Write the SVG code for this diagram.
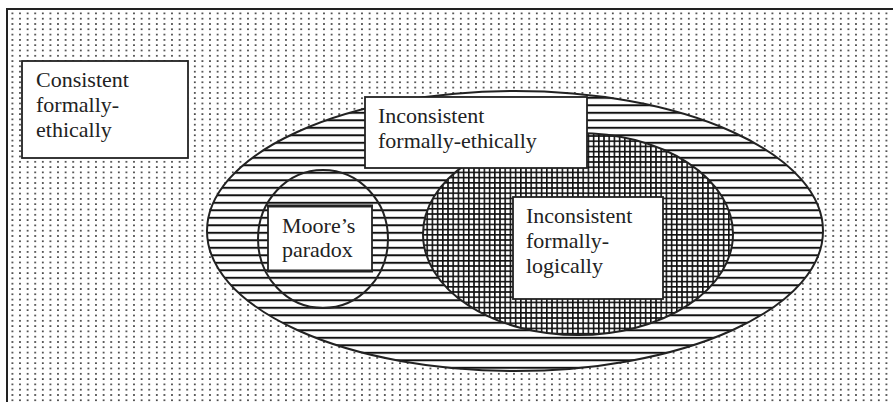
<svg xmlns="http://www.w3.org/2000/svg" width="893" height="402" viewBox="0 0 893 402">
  <defs>
    <pattern id="dots" patternUnits="userSpaceOnUse" x="2" y="1" width="7.6" height="5.3">
      <rect x="2" y="1" width="1.6" height="1.6" fill="#222"/>
    </pattern>
    <pattern id="hlines" patternUnits="userSpaceOnUse" x="0" y="6.8" width="20" height="7.5">
      <rect x="0" y="0" width="20" height="2" fill="#111"/>
    </pattern>
    <pattern id="grid" patternUnits="userSpaceOnUse" x="0" y="0" width="5.2" height="5.2">
      <rect x="0" y="0" width="5.2" height="1.6" fill="#111"/>
      <rect x="0" y="0" width="1.6" height="5.2" fill="#111"/>
    </pattern>
  </defs>
  <style>
    .lbl { font-family: "Liberation Serif", "Times New Roman", "DejaVu Serif", serif; font-size: 22px; fill: #222; }
    .box { fill: #fff; stroke: #222; stroke-width: 1.8; }
    .outline { fill: none; stroke: #222; stroke-width: 2; }
  </style>
  <rect x="0" y="0" width="893" height="402" fill="#fff"/>
  <g id="universe">
    <rect x="7" y="9" width="900" height="400" fill="url(#dots)" stroke="#222" stroke-width="2"/>
  </g>
  <g id="inconsistent-ethical">
    <ellipse cx="515" cy="231" rx="308" ry="140" fill="#fff"/>
    <ellipse cx="515" cy="231" rx="308" ry="140" fill="url(#hlines)" stroke="#222" stroke-width="2"/>
  </g>
  <g id="inconsistent-logical">
    <ellipse cx="578" cy="234" rx="155" ry="101" fill="#fff"/>
    <ellipse cx="578" cy="234" rx="155" ry="101" fill="url(#grid)" stroke="#222" stroke-width="2"/>
  </g>
  <g id="moore-circle">
    <ellipse cx="323" cy="239" rx="65" ry="69" class="outline" stroke-width="4"/>
  </g>
  <g id="consistent-label">
    <rect x="22" y="61" width="166" height="97" class="box"/>
    <text class="lbl" font-family="Liberation Serif, serif"><tspan x="36" y="87">Consistent</tspan><tspan x="36" y="112">formally-</tspan><tspan x="36" y="137">ethically</tspan></text>
  </g>
  <g id="inconsistent-ethical-label">
    <rect x="365" y="97" width="222" height="71" class="box"/>
    <text class="lbl" font-family="Liberation Serif, serif"><tspan x="378" y="123">Inconsistent</tspan><tspan x="378" y="148">formally-ethically</tspan></text>
  </g>
  <g id="inconsistent-logical-label">
    <rect x="513" y="197" width="150" height="102" class="box"/>
    <text class="lbl" font-family="Liberation Serif, serif"><tspan x="526" y="223">Inconsistent</tspan><tspan x="526" y="248">formally-</tspan><tspan x="526" y="273">logically</tspan></text>
  </g>
  <g id="moore-label">
    <rect x="268" y="206" width="104" height="65" class="box"/>
    <line x1="267" y1="206" x2="373" y2="206" stroke="#222" stroke-width="3"/>
    <line x1="267" y1="271" x2="373" y2="271" stroke="#222" stroke-width="3"/>
    <text class="lbl" font-family="Liberation Serif, serif"><tspan x="282" y="233">Moore’s</tspan><tspan x="282" y="257">paradox</tspan></text>
  </g>
  <g id="connectors"/>
</svg>
